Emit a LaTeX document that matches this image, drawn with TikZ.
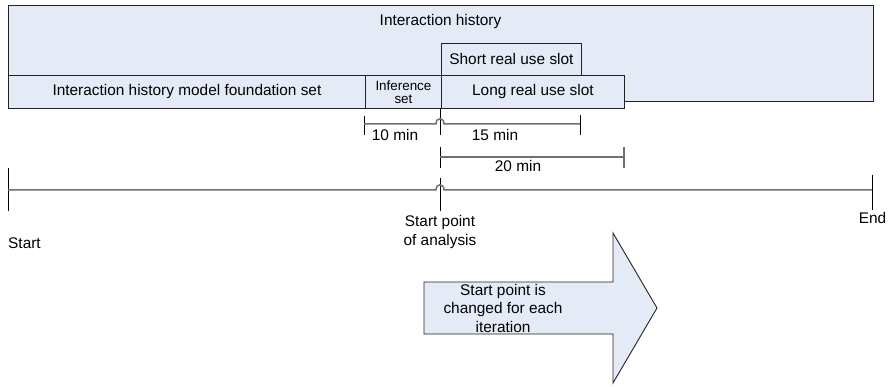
\documentclass[tikz,border=0pt]{standalone}
\usepackage{fontspec}
\setmainfont{Liberation Sans}
\usetikzlibrary{calc}

\definecolor{paneblue}{RGB}{229,235,246}
\definecolor{rulegray}{RGB}{112,112,112}
\definecolor{boxedge}{RGB}{35,35,35}

\tikzset{
  panel/.style={draw=boxedge, line width=0.9pt, fill=paneblue, inner sep=0pt,
                anchor=north west, align=center},
  rule/.style={draw=rulegray, line width=1.5pt},
  tick/.style={draw=black, line width=0.9pt},
  lbl/.style={inner sep=0pt, align=center},
}

\begin{document}
\begin{tikzpicture}[x=1pt, y=-1pt, font=\fontsize{15.4}{18.5}\selectfont]
\useasboundingbox (0,0) rectangle (891,387);

% ---- stacked slot boxes -------------------------------------------
\node[panel, minimum width=865pt, minimum height=96pt] (hist) at (8,5) {};
\node[lbl] (histlabel) at (440.5,22) {Interaction history};

\node[panel, minimum width=140pt, minimum height=32pt] (short) at (441,43)
  {Short real use slot};
\node[panel, minimum width=357pt, minimum height=33pt] (found) at (8,75)
  {Interaction history model foundation set};
\node[panel, minimum width=76pt, minimum height=33pt,
      font=\fontsize{13.4}{13}\selectfont] (infer) at (365,75) {Inference\\set};
\node[panel, minimum width=183pt, minimum height=33pt] (long) at (441,75)
  {Long real use slot};

% ---- dimension markers ---------------------------------------------
\coordinate (a10) at (364,124);
\coordinate (a0)  at (440,124);
\coordinate (a15) at (580,124);
\coordinate (b0)  at (440,157);
\coordinate (b20) at (624,157);

\draw[tick] (a10) ++(0,-8) -- ++(0,19);
\draw[tick] (found.south east -| a0) -- ($(a0)+(0,11)$);
\draw[tick] (a15) ++(0,-9) -- ++(0,20);
\draw[rule] (a10) -- ($(a0)+(-4,0)$)
  .. controls ($(a0)+(-4,-7)$) and ($(a0)+(4,-7)$) .. ($(a0)+(4,0)$) -- (a15);

\draw[tick] (b0) ++(0,-10) -- ++(0,21);
\draw[rule] (b20) ++(0,-10) -- ++(0,21);
\draw[rule] (b0) -- (b20);

\node[lbl] (m10) at (395,135) {10 min};
\node[lbl] (m15) at (495,135) {15 min};
\node[lbl] (m20) at (518,166) {20 min};

% ---- main timeline ---------------------------------------------------
\coordinate (tstart) at (8,190);
\coordinate (tmid)   at (440,190);
\coordinate (tend)   at (872,190);

\draw[tick] (tstart) ++(0,-22) -- ++(0,43);
\draw[tick] (tmid) ++(0,-12) -- ++(0,33);
\draw[tick] (tend) ++(0,-15) -- ++(0,35);
\draw[rule] (tstart) -- ($(tmid)+(-4,0)$)
  .. controls ($(tmid)+(-4,-7)$) and ($(tmid)+(4,-7)$) .. ($(tmid)+(4,0)$) -- (tend);

\node[lbl, anchor=west] (lstart) at (8,243.5) {Start};
\node[lbl] (lmid) at (440,232) {Start point\\of analysis};
\node[lbl] (lend) at (872.5,218) {End};

% ---- iteration arrow -------------------------------------------------
\draw[draw=boxedge, line width=0.9pt, fill=paneblue]
  (424,282) -- (613,282) -- (613,233) -- (657,308) -- (613,383)
  -- (613,334) -- (424,334) -- cycle;
\node[lbl] (iter) at (503,308) {Start point is\\changed for each\\iteration};
\end{tikzpicture}
\end{document}
